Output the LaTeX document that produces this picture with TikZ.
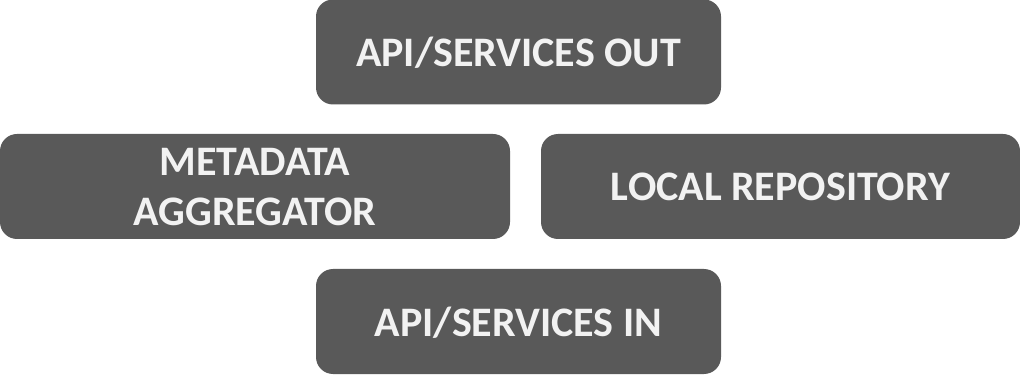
\documentclass[tikz,border=0pt]{standalone}
\usepackage{fontspec}
\setmainfont{Carlito}
\usetikzlibrary{positioning}

\definecolor{boxgray}{HTML}{595959}
\definecolor{boxtext}{HTML}{F2F2F2}
\tikzset{
	block/.style={fill=boxgray, draw=none, rounded corners=17pt, text=boxtext,
		font=\fontsize{42}{50}\selectfont\bfseries, align=center,
		inner sep=0pt, text depth=0pt, minimum height=105pt},
}

\begin{document}
\begin{tikzpicture}[x=1pt,y=1pt]
	\useasboundingbox (0,0) rectangle (1020,375);
	% top and bottom
	\node[block, minimum width=405pt] (out) at (518.5, 323) {API/SERVICES OUT};
	\node[block, minimum width=405pt] (in) at (518.5, 53.5) {API/SERVICES IN};
	% middle row
	\node[block, minimum width=510pt] (aggregator) at (255, 188.5) {METADATA\\AGGREGATOR};
	\node[block, minimum width=479pt] (repo) at (780.5, 188.5) {LOCAL REPOSITORY};
\end{tikzpicture}
\end{document}
